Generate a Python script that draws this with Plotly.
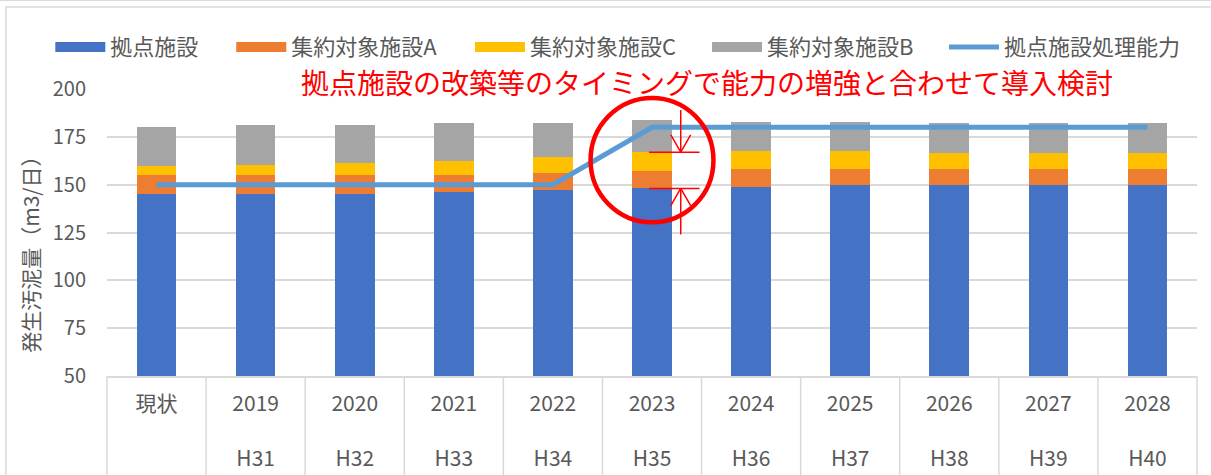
import plotly.graph_objects as go

# ---------------- data ----------------
categories = ["現状", "2019", "2020", "2021", "2022", "2023", "2024", "2025", "2026", "2027", "2028"]
era_labels = ["", "H31", "H32", "H33", "H34", "H35", "H36", "H37", "H38", "H39", "H40"]

base_facility = [145, 145, 145, 146, 147, 148, 149, 150, 150, 150, 150]      # 拠点施設
facility_a = [10, 10, 10, 9, 9, 9, 9, 8, 8, 8, 8]                             # 集約対象施設A
facility_c = [5, 5.5, 6.5, 7.5, 8.5, 10, 9.5, 9.5, 8.5, 8.5, 8.5]             # 集約対象施設C
facility_b = [20, 20.5, 19.5, 19.5, 17.5, 17, 15.5, 15.5, 15.5, 15.5, 15.5]   # 集約対象施設B
capacity = [150, 150, 150, 150, 150, 180, 180, 180, 180, 180, 180]           # 拠点施設処理能力

ytick_vals = [50, 75, 100, 125, 150, 175, 200]

# ---------------- style ----------------
FONT = "Noto Sans CJK JP"
GREY_TXT = "#595959"
GRID = "#D9D9D9"

series = [
    ("拠点施設", base_facility, "#4472C4"),
    ("集約対象施設A", facility_a, "#ED7D31"),
    ("集約対象施設C", facility_c, "#FFC000"),
    ("集約対象施設B", facility_b, "#A5A5A5"),
]
legend_ids = ["legend", "legend2", "legend3", "legend4", "legend5"]
legend_x = [-0.052, 0.1140, 0.3330, 0.5505, 0.7679]   # paper x of each legend entry

fig = go.Figure()
for (name, vals, color), lid in zip(series, legend_ids):
    fig.add_trace(go.Bar(x=categories, y=vals, name=name, marker=dict(color=color, line=dict(width=0)),
                         legendgroup=name, showlegend=False))
    # legend proxy (wide rectangle symbol)
    fig.add_trace(go.Scatter(x=[None], y=[None], mode="lines", name=name, legendgroup=name,
                             legend=lid, line=dict(color=color, width=12.6), hoverinfo="skip"))

fig.add_trace(go.Scatter(x=categories, y=capacity, mode="lines", name="拠点施設処理能力",
                         legendgroup="capacity", legend=legend_ids[4],
                         line=dict(color="#5B9BD5", width=5)))

ticktext = [f"{c}<br><br>{e}" if e else c for c, e in zip(categories, era_labels)]

# ---------------- shapes / annotations ----------------
shapes = []
n = len(categories)
for i in range(n + 1):
    shapes.append(dict(type="line", xref="paper", yref="paper", x0=i / n, x1=i / n, y0=0, y1=-0.4,
                       line=dict(color=GRID, width=1.5)))
# outer chart border
shapes.append(dict(type="rect", xref="paper", yref="paper", x0=-0.0927, x1=1.03, y0=-0.5, y1=1.286,
                   line=dict(color=GRID, width=1.5)))
shapes.append(dict(type="line", xref="paper", yref="paper", x0=-0.2, x1=1.1, y0=1.309, y1=1.309,
                   line=dict(color=GRID, width=1.5)))

# highlight circle around the 2023 upgrade
k = categories.index("2023")
shapes.append(dict(type="circle", xref="x", yref="y", x0=k - 0.62, x1=k + 0.62, y0=130.3, y1=195.3,
                   line=dict(color="#FF0000", width=4.5)))

top_line = base_facility[k] + facility_a[k] + facility_c[k]
low_line = base_facility[k]
xa = k + 0.29
red = dict(color="#FF0000", width=1.5)
for yv in (top_line, low_line):
    shapes.append(dict(type="line", xref="x", yref="y", x0=k - 0.03, x1=k + 0.48, y0=yv, y1=yv, line=red))
# upper arrow (pointing down)
shapes.append(dict(type="line", xref="x", yref="y", x0=xa, x1=xa, y0=top_line + 22, y1=top_line, line=red))
shapes.append(dict(type="line", xref="x", yref="y", x0=xa - 0.1, x1=xa, y0=top_line + 9, y1=top_line, line=red))
shapes.append(dict(type="line", xref="x", yref="y", x0=xa + 0.1, x1=xa, y0=top_line + 9, y1=top_line, line=red))
# lower arrow (pointing up)
shapes.append(dict(type="line", xref="x", yref="y", x0=xa, x1=xa, y0=low_line - 24, y1=low_line, line=red))
shapes.append(dict(type="line", xref="x", yref="y", x0=xa - 0.1, x1=xa, y0=low_line - 9, y1=low_line, line=red))
shapes.append(dict(type="line", xref="x", yref="y", x0=xa + 0.1, x1=xa, y0=low_line - 9, y1=low_line, line=red))

annotations = [
    dict(text="拠点施設の改築等のタイミングで能力の増強と合わせて導入検討", xref="paper", yref="paper",
         x=0.5505, y=1.024, xanchor="center", yanchor="middle", showarrow=False,
         font=dict(family=FONT, size=28, color="#FF0000")),
    dict(text="発生汚泥量（m3/日）", xref="paper", yref="paper", x=-0.0706, y=0.44,
         xanchor="center", yanchor="middle", textangle=-90, showarrow=False,
         font=dict(family=FONT, size=21, color=GREY_TXT)),
]

legend_style = dict(orientation="h", xanchor="left", y=1.146, yanchor="middle",
                    font=dict(family=FONT, size=22, color=GREY_TXT), itemwidth=50,
                    bgcolor="rgba(0,0,0,0)")
legends = {lid: dict(legend_style, x=lx) for lid, lx in zip(legend_ids, legend_x)}

fig.update_layout(
    width=1211, height=475,
    margin=dict(l=107, r=14, t=89, b=99, autoexpand=False),
    paper_bgcolor="white", plot_bgcolor="white",
    barmode="stack", bargap=0.6,
    font=dict(family=FONT, color=GREY_TXT),
    shapes=shapes,
    annotations=annotations,
    hovermode=False,
    **legends,
)
fig.update_xaxes(type="category", categoryorder="array", categoryarray=categories,
                 tickvals=categories, ticktext=ticktext, range=[-0.5, n - 0.5],
                 showgrid=False, showline=True, linecolor=GRID, linewidth=1.5, ticks="",
                 tickfont=dict(family=FONT, size=21, color=GREY_TXT), ticklabelstandoff=8)
fig.update_yaxes(range=[50, 200], tickvals=ytick_vals, showgrid=True, gridcolor=GRID, gridwidth=1.5,
                 zeroline=False, showline=False, ticks="",
                 tickfont=dict(family=FONT, size=20, color=GREY_TXT), ticklabelstandoff=20)

fig.write_html("out.html")
